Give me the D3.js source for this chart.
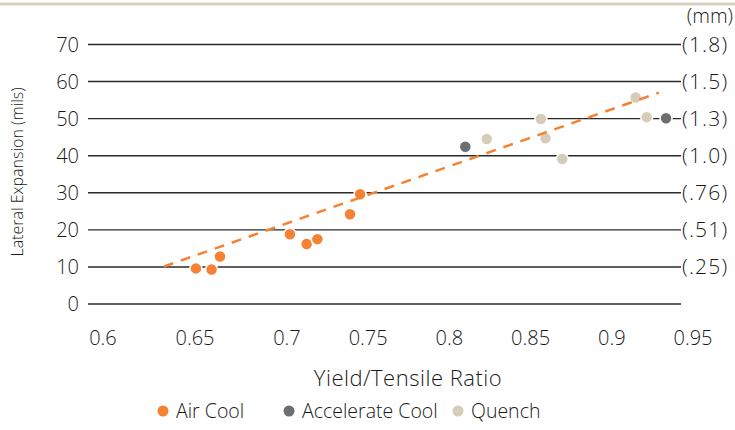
<!DOCTYPE html>
<html>
<head>
<meta charset="utf-8">
<script src="https://cdn.jsdelivr.net/npm/d3@7"></script>
<style>
  body { margin: 0; background: #fff; }
  svg text { font-family: "Open Sans", "Noto Sans", sans-serif; font-weight: 300; fill: #1a1a1a; }
</style>
</head>
<body>
<script>
// values
const airCoolX = [0.6505, 0.659, 0.6636, 0.7018, 0.7121, 0.7187, 0.7388, 0.745];
const airCoolY = [9.6, 9.3, 12.8, 18.8, 16.2, 17.5, 24.2, 29.6];
const accelX = [0.8098, 0.9334];
const accelY = [42.4, 50.1];
const quenchX = [0.823, 0.8563, 0.8592, 0.8695, 0.9147, 0.9215];
const quenchY = [44.5, 49.9, 44.7, 39.1, 55.7, 50.4];
const trendX = [0.633, 0.929];
const trendY = [10.1, 57.0];
const xTicks = [0.6, 0.65, 0.7, 0.75, 0.8, 0.85, 0.9, 0.95];
const yTicks = [0, 10, 20, 30, 40, 50, 60, 70];
const mmLabels = ["", "(.25)", "(.51)", "(.76)", "(1.0)", "(1.3)", "(1.5)", "(1.8)"];
const seriesNames = ["Air Cool", "Accelerate Cool", "Quench"];
const seriesColors = ["#f58233", "#6d6e71", "#d5ccb9"];

const width = 735, height = 430;
const svg = d3.select("body").append("svg")
  .attr("width", width)
  .attr("height", height);

// the source spaces its first ticks a bit wider than the rest
const x = d3.scaleLinear().domain([0.6, 0.65, 0.7, 0.95]).range([103, 195, 287, 693]);
const y = d3.scaleLinear().domain([0, 70]).range([304, 44.5]);

// top rule
svg.append("rect").attr("x", 0).attr("y", 2.5).attr("width", width).attr("height", 3)
  .attr("fill", "#d8d1c1");

// gridlines
svg.append("g").selectAll("line").data(yTicks).join("line")
  .attr("x1", 88).attr("x2", 681)
  .attr("y1", d => y(d)).attr("y2", d => y(d))
  .attr("stroke", "#2a2a2a").attr("stroke-width", 1.4);

// left tick labels
svg.append("g").selectAll("text").data(yTicks).join("text")
  .attr("x", 79).attr("y", d => y(d)).attr("dy", "0.35em")
  .attr("text-anchor", "end").attr("font-size", 20)
  .text(d => d);

// right mm labels
svg.append("g").selectAll("text").data(yTicks).join("text")
  .attr("x", 682).attr("y", d => y(d)).attr("dy", "0.35em")
  .attr("font-size", 21).attr("letter-spacing", 1.2)
  .text((d, i) => mmLabels[i]);
svg.append("text").attr("x", 733).attr("y", 16).attr("dy", "0.35em")
  .attr("text-anchor", "end").attr("font-size", 20).text("(mm)");

// x tick labels
svg.append("g").selectAll("text").data(xTicks).join("text")
  .attr("x", d => x(d)).attr("y", 345)
  .attr("text-anchor", "middle").attr("font-size", 20)
  .text(d => d);

// axis titles
svg.append("text").attr("x", 408).attr("y", 386)
  .attr("text-anchor", "middle").attr("font-size", 22).attr("letter-spacing", 0.5)
  .text("Yield/Tensile Ratio");
svg.append("text")
  .attr("transform", "translate(23,172) rotate(-90)")
  .attr("text-anchor", "middle").attr("font-size", 16).text("Lateral Expansion (mils)");

// points
const series = [
  airCoolX.map((v, i) => [v, airCoolY[i]]),
  accelX.map((v, i) => [v, accelY[i]]),
  quenchX.map((v, i) => [v, quenchY[i]])
];
series.forEach((pts, s) => {
  svg.append("g").selectAll("circle").data(pts).join("circle")
    .attr("cx", d => x(d[0])).attr("cy", d => y(d[1])).attr("r", 6)
    .attr("fill", seriesColors[s])
    .attr("stroke", "#fff").attr("stroke-width", 1.5);
});

// trend line
svg.append("path")
  .datum(trendX.map((v, i) => [v, trendY[i]]))
  .attr("d", d3.line().x(d => x(d[0])).y(d => y(d[1])))
  .attr("fill", "none")
  .attr("stroke", seriesColors[0])
  .attr("stroke-width", 2.5)
  .attr("stroke-dasharray", "10,8");

// legend
const legendX = [163, 289, 458];
const legend = svg.append("g").selectAll("g").data(seriesNames).join("g")
  .attr("transform", (d, i) => `translate(${legendX[i]},411)`);
legend.append("circle").attr("r", 5.5).attr("fill", (d, i) => seriesColors[i]);
legend.append("text").attr("x", 13).attr("dy", "0.35em")
  .attr("font-size", 19.5).text(d => d);
</script>
</body>
</html>
